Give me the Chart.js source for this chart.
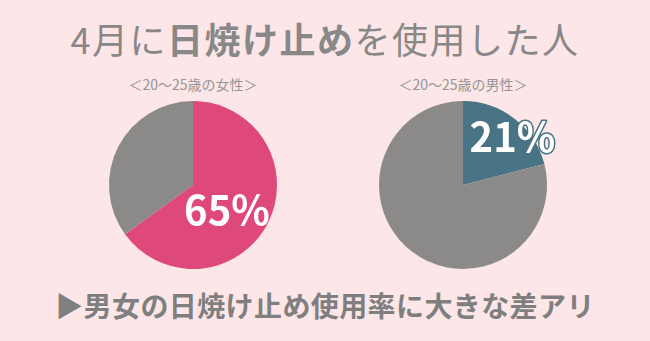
<!DOCTYPE html>
<html lang="ja">
<head>
<meta charset="utf-8">
<title>日焼け止め使用率</title>
<script src="https://cdn.jsdelivr.net/npm/chart.js@4.4.0/dist/chart.umd.min.js"></script>
<style>
  html, body { margin: 0; padding: 0; }
  body {
    width: 650px; height: 341px; overflow: hidden; position: relative;
    background: #fde6e7;
    font-family: "Noto Sans CJK JP", "Noto Sans", sans-serif;
  }
  .title {
    position: absolute; left: 0; width: 650px; top: 16px;
    text-align: center; font-size: 36px; line-height: 44px;
    color: #888888; letter-spacing: 1.5px; font-weight: 400;
  }
  .title b { font-weight: 700; }
  .sub {
    position: absolute; top: 74px; width: 200px; text-align: center;
    font-size: 14px; line-height: 20px; color: #959595; font-weight: 400;
  }
  .note {
    position: absolute; left: 0; width: 650px; top: 286px;
    text-align: center; font-size: 28px; line-height: 38px;
    color: #7f7f7f; font-weight: 700; letter-spacing: 0.4px;
  }
  .pie { position: absolute; top: 85px; width: 250px; height: 200px; }
</style>
</head>
<body>
  <div class="title">4月に<b>日焼け止め</b>を使用した人</div>
  <div class="sub" style="left:93px">＜20～25歳の女性＞</div>
  <div class="sub" style="left:363px">＜20～25歳の男性＞</div>
  <div class="pie" style="left:68px"><canvas id="women"></canvas></div>
  <div class="pie" style="left:338px"><canvas id="men"></canvas></div>
  <div class="note">▶男女の日焼け止め使用率に大きな差アリ</div>

<script>
// share of people who used sunscreen in April (%)
const categories = ["使用した", "使用していない"];
const womenValues = [65, 35];
const menValues = [21, 79];

// draws the "xx%" label for the first slice
const pctLabel = {
  id: 'pctLabel',
  afterDatasetsDraw(chart, args, opts) {
    const arc = chart.getDatasetMeta(0).data[0];
    const p = arc.getProps(['x', 'y', 'startAngle', 'endAngle', 'outerRadius']);
    const mid = (p.startAngle + p.endAngle) / 2 + opts.shift;
    const d = p.outerRadius * opts.dist;
    const x = p.x + Math.cos(mid) * d;
    const y = p.y + Math.sin(mid) * d;
    const ctx = chart.ctx;
    ctx.save();
    ctx.font = '700 40px "Noto Sans CJK JP", "Noto Sans", sans-serif';
    ctx.textAlign = 'center';
    ctx.textBaseline = 'middle';
    const txt = chart.data.datasets[0].data[0] + '%';
    if (opts.outline) {
      ctx.lineWidth = 3;
      ctx.strokeStyle = opts.outline;
      ctx.lineJoin = 'round';
      ctx.strokeText(txt, x, y);
    }
    ctx.fillStyle = '#ffffff';
    ctx.fillText(txt, x, y);
    ctx.restore();
  }
};

function makePie(id, values, color, labelOpts) {
  new Chart(document.getElementById(id), {
    type: 'pie',
    data: {
      labels: categories,
      datasets: [{
        data: values,
        backgroundColor: [color, '#8c8a89'],
        borderWidth: 0,
        radius: 84
      }]
    },
    options: {
      responsive: true,
      maintainAspectRatio: false,
      animation: false,
      events: [],
      layout: { padding: 0 },
      plugins: {
        legend: { display: false },
        tooltip: { enabled: false },
        pctLabel: labelOpts
      }
    },
    plugins: [pctLabel]
  });
}

makePie('women', womenValues, '#de487a', { dist: 0.5, shift: 0.16, outline: null });
makePie('men', menValues, '#487485', { dist: 0.82, shift: 0.14, outline: '#487485' });
</script>
</body>
</html>
